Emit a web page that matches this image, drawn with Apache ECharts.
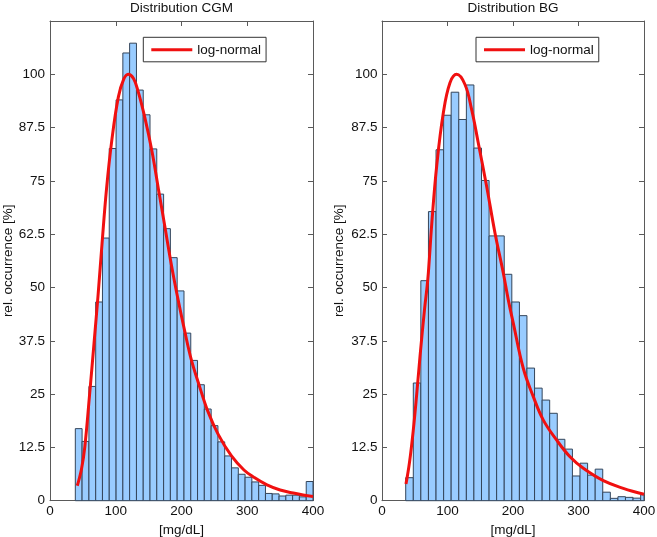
<!DOCTYPE html>
<html>
<head>
<meta charset="utf-8">
<script src="https://cdn.jsdelivr.net/npm/echarts@6/dist/echarts.min.js"></script>
<style>html,body{margin:0;padding:0;background:#fff}#c{width:657px;height:537px}</style>
</head>
<body>
<div id="c"></div>
<script>
// ---- data ----
const titles = ['Distribution CGM', 'Distribution BG'];
const xName = '[mg/dL]';
const yName = 'rel. occurrence [%]';
const legendName = 'log-normal';

// histogram bin edges [mg/dL]
const cgmEdges = [38.5, 48.8, 59.2, 69.5, 79.8, 90.1, 100.5, 110.8, 121.1, 131.5, 141.8, 152.1,
  162.4, 172.8, 183.1, 193.4, 203.8, 214.1, 224.4, 234.7, 245.1, 255.4, 265.7, 276.1, 286.4,
  296.7, 307.0, 317.4, 327.7, 338.0, 348.4, 358.7, 369.0, 379.3, 389.7, 400.0];
const cgmCounts = [16.9, 13.9, 26.8, 46.6, 61.6, 82.6, 94.0, 105.0, 107.3, 96.3, 90.5, 82.5,
  71.9, 63.8, 57.0, 49.2, 39.3, 32.9, 27.2, 21.5, 17.6, 13.8, 10.5, 7.7, 6.2, 5.5, 4.4, 3.6,
  1.7, 1.6, 1.1, 1.3, 1.3, 0.9, 4.5];

const bgEdges = [36.2, 47.8, 59.3, 70.9, 82.5, 94.1, 105.6, 117.2, 128.8, 140.3, 151.9, 163.5,
  175.0, 186.6, 198.2, 209.8, 221.3, 232.9, 244.5, 256.0, 267.6, 279.2, 290.7, 302.3, 313.9,
  325.5, 337.0, 348.6, 360.2, 371.7, 383.3, 394.9, 406.4];
const bgCounts = [5.4, 27.6, 51.6, 67.8, 82.3, 90.4, 95.8, 89.4, 97.5, 82.7, 75.1, 62.1, 62.1,
  53.1, 46.6, 43.4, 31.1, 26.4, 23.6, 20.5, 14.4, 12.1, 5.8, 8.8, 6.0, 7.4, 2.0, 0.55, 0.94,
  0.78, 0.6, 1.4];

// fitted log-normal curves [x, y]
const cgmFitX = [41.5, 48, 53, 60, 67, 73, 79, 86, 94, 104, 112, 119, 127, 134, 144, 155, 165,
  175, 185, 195, 205, 215, 226, 240, 256, 276, 295, 310, 330, 350, 370, 385, 400];
const cgmFitY = [3.5, 7.5, 12.7, 24.5, 37, 48, 60, 73.2, 84.5, 94.7, 98.8, 100, 99, 96, 90, 82,
  73, 64, 55, 47, 39.7, 33, 27.5, 21, 15.5, 10.5, 7.2, 5.5, 3.7, 2.5, 1.8, 1.35, 1.0];
const bgFitX = [36.6, 42, 47.8, 53, 58, 65, 70, 76, 83.5, 93.6, 103.8, 114, 126.7, 136.9, 147,
  159.8, 172.5, 185.2, 192.8, 200.5, 215.8, 231, 246.3, 266.7, 287, 307.4, 337.9, 368.4, 400];
const bgFitY = [3.9, 9, 16.6, 25, 33.8, 45, 52, 65, 78.5, 90.9, 98, 100, 97.6, 91.7, 83.9,
  73.7, 62.8, 53.4, 47.1, 41.6, 31, 24.4, 18.9, 14.2, 10.3, 7.6, 4.7, 2.9, 1.5];

// axis ranges
const xMin = 0, xMax = 400, xStep = 100;
const yMin = 0, yMax = 112.5, yStep = 12.5;

// ---- chart ----
const FONT = 'Liberation Sans, Arial, sans-serif';
const AXIS_COLOR = '#5a5a5a';
const BAR_FILL = '#99ccff';
const BAR_EDGE = '#34455a';
const RED = '#f01010';

function binData(edges, counts) {
  return counts.map((c, i) => [edges[i], edges[i + 1], c]);
}
function pairs(xs, ys) { return xs.map((x, i) => [x, ys[i]]); }

function renderBar(params, api) {
  const x0 = api.value(0), x1 = api.value(1), h = api.value(2);
  const p0 = api.coord([x0, h]);
  const p1 = api.coord([x1, 0]);
  const cs = params.coordSys;
  const rect = echarts.graphic.clipRectByRect(
    { x: p0[0], y: p0[1], width: p1[0] - p0[0], height: p1[1] - p0[1] },
    { x: cs.x, y: cs.y, width: cs.width, height: cs.height });
  if (!rect) return null;
  return { type: 'rect', shape: rect, style: { fill: BAR_FILL, stroke: BAR_EDGE, lineWidth: 1 } };
}

const grids = [
  { left: 50, top: 21, width: 263, height: 479.7, outerBoundsMode: 'none', containLabel: false },
  { left: 382, top: 21, width: 262, height: 479.7, outerBoundsMode: 'none', containLabel: false }
];

const xAxes = [], yAxes = [];
grids.forEach((g, gi) => {
  const common = {
    gridIndex: gi, type: 'value', min: xMin, max: xMax, interval: xStep,
    axisLine: { show: true, onZero: false, lineStyle: { color: AXIS_COLOR, width: 1 } },
    axisTick: { show: true, inside: true, length: 5, lineStyle: { color: AXIS_COLOR } },
    splitLine: { show: false }
  };
  xAxes.push(Object.assign({}, common, {
    position: 'bottom',
    axisLabel: { margin: 4, color: '#111', fontFamily: FONT, fontSize: 13.5 },
    name: xName, nameLocation: 'middle', nameGap: 20,
    nameTextStyle: { color: '#111', fontFamily: FONT, fontSize: 13.5 }
  }));
  xAxes.push(Object.assign({}, common, {
    position: 'top',
    axisLabel: { show: false },
    name: titles[gi], nameLocation: 'middle', nameGap: 6,
    nameTextStyle: { color: '#111', fontFamily: FONT, fontSize: 13.5, verticalAlign: 'bottom' }
  }));
  const ycommon = {
    gridIndex: gi, type: 'value', min: yMin, max: yMax, interval: yStep,
    axisLine: { show: true, onZero: false, lineStyle: { color: AXIS_COLOR, width: 1 } },
    axisTick: { show: true, inside: true, length: 5, lineStyle: { color: AXIS_COLOR } },
    splitLine: { show: false }
  };
  yAxes.push(Object.assign({}, ycommon, {
    position: 'left',
    axisLabel: { margin: gi === 0 ? 5 : 4.5, color: '#111', fontFamily: FONT, fontSize: 13.5,
      formatter: v => (v === yMax ? '' : String(v)) },
    name: yName, nameLocation: 'middle', nameGap: gi === 0 ? 34 : 36, nameRotate: 90,
    nameTextStyle: { color: '#111', fontFamily: FONT, fontSize: 13.5 }
  }));
  yAxes.push(Object.assign({}, ycommon, {
    position: 'right',
    axisLabel: { show: false }
  }));
});

const legendBase = {
  orient: 'horizontal', selectedMode: false, data: [legendName],
  icon: 'rect', itemWidth: 41, itemHeight: 3,
  padding: [5.5, 5, 5, 8], borderColor: '#333', borderWidth: 1, borderRadius: 0,
  backgroundColor: '#fff',
  textStyle: { color: '#111', fontFamily: FONT, fontSize: 13.5 }
};

const option = {
  animation: false,
  backgroundColor: '#fff',
  grid: grids,
  xAxis: xAxes,
  yAxis: yAxes,
  legend: [
    Object.assign({}, legendBase, { left: 143.3, top: 37.3 }),
    Object.assign({}, legendBase, { left: 476, top: 37.3 })
  ],
  series: [
    { type: 'custom', name: 'CGM', xAxisIndex: 0, yAxisIndex: 0, renderItem: renderBar,
      encode: { x: [0, 1], y: 2 }, data: binData(cgmEdges, cgmCounts), z: 2 },
    { type: 'line', name: legendName, xAxisIndex: 0, yAxisIndex: 0, data: pairs(cgmFitX, cgmFitY),
      smooth: 0.4, symbol: 'none', showSymbol: false, color: RED,
      lineStyle: { color: RED, width: 3 }, z: 3 },
    { type: 'custom', name: 'BG', xAxisIndex: 2, yAxisIndex: 2, renderItem: renderBar,
      encode: { x: [0, 1], y: 2 }, data: binData(bgEdges, bgCounts), z: 2 },
    { type: 'line', name: legendName, xAxisIndex: 2, yAxisIndex: 2, data: pairs(bgFitX, bgFitY),
      smooth: 0.4, symbol: 'none', showSymbol: false, color: RED,
      lineStyle: { color: RED, width: 3 }, z: 3 }
  ]
};

const chart = echarts.init(document.getElementById('c'), null, { renderer: 'canvas' });
chart.setOption(option);
</script>
</body>
</html>
